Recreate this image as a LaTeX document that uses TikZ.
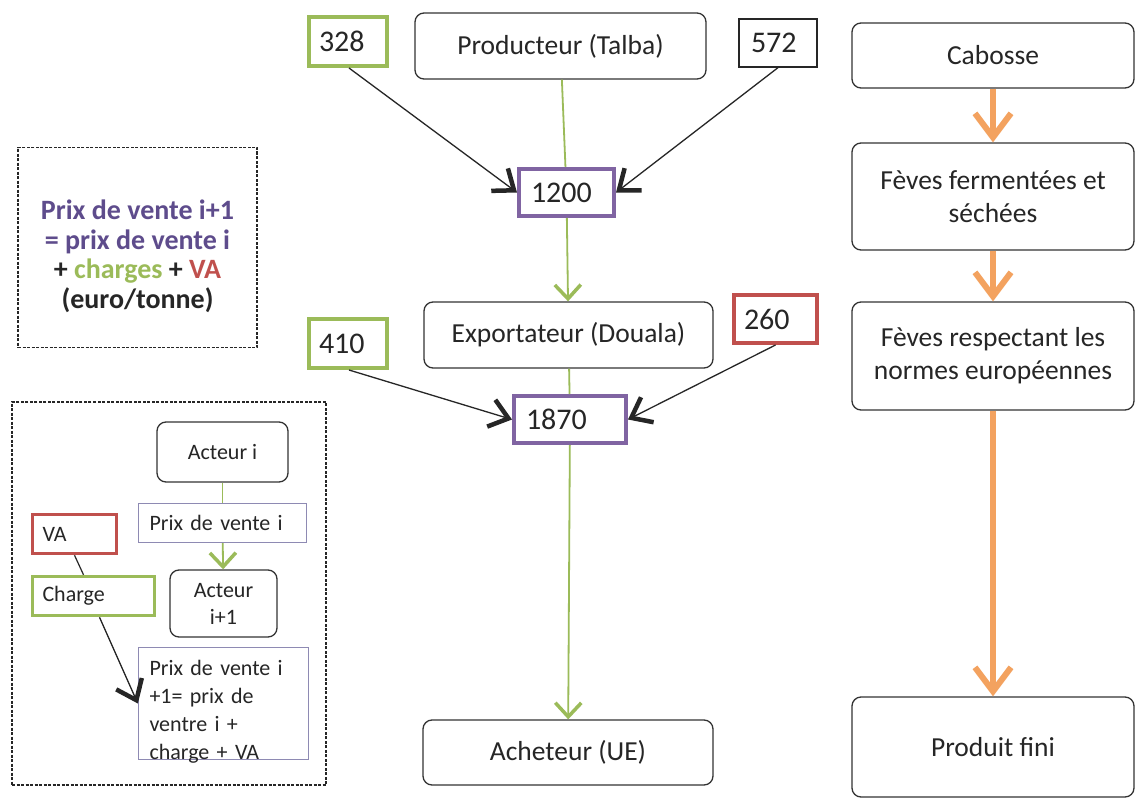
\documentclass[tikz,border=0pt]{standalone}
\usepackage{fontspec}
\setmainfont{Carlito}
\usepackage{xcolor}
\usepackage{tikz}
\usetikzlibrary{arrows.meta}
\definecolor{texte}{HTML}{262626}
\definecolor{vert}{HTML}{9BBB59}
\definecolor{violet}{HTML}{8064A2}
\definecolor{violettexte}{HTML}{5E4C8C}
\definecolor{rouge}{HTML}{C0504D}
\definecolor{orangeflux}{HTML}{F3A25F}
\definecolor{grisprix}{HTML}{8E8AB3}
\tikzset{
  acteur/.style={draw=black!80, line width=1.3pt, rounded corners=9pt, align=center,
    text=texte, font=\fontsize{27.5}{33}\selectfont},
  petitacteur/.style={acteur, font=\fontsize{22}{27}\selectfont},
  montant/.style={draw, line width=4pt, align=left, inner xsep=12pt,
    text=texte, font=\fontsize{30}{32}\selectfont},
  petitmontant/.style={draw, line width=3.5pt, align=left, inner xsep=10pt,
    text=texte, font=\fontsize{22}{27.5}\selectfont},
  prix/.style={draw=grisprix, line width=1.3pt, align=left, inner xsep=11pt,
    text=texte, font=\fontsize{22}{28}\selectfont},
  cadre/.style={draw=black!85, line width=1.4pt, dash pattern=on 3pt off 1.5pt},
  lien/.style={draw=vert, line width=1.8pt},
  flechevert/.style={lien, -{Straight Barb[length=14pt,width=26pt,line width=3.5pt]}},
  apport/.style={draw=black!85, line width=1.3pt,
    -{Straight Barb[length=18pt,width=28pt,line width=4.5pt]}},
  flux/.style={draw=orangeflux, line width=6pt,
    -{Straight Barb[length=24pt,width=36pt,line width=6pt]}}
}

\begin{document}
\begin{tikzpicture}[x=1pt,y=-1pt]
\fill[white] (0,0) rectangle (1136,800);
\useasboundingbox (0,0) rectangle (1136,800);

% legende : formule
\node[cadre, minimum width=239pt, minimum height=200pt] (formule) at (137.5,247.5) {};
\node[align=center, text=texte, font=\bfseries\fontsize{28}{29.5}\selectfont]
  (formuletexte) at ([yshift=-9pt]formule.center)
  {{\color{violettexte}Prix de vente i+1}\\{\color{violettexte}= prix de vente i}\\
   + {\color{vert}charges} + {\color{rouge}VA}\\(euro/tonne)};

% legende : schema type
\node[cadre, minimum width=314pt, minimum height=383pt] (schema) at (169,593.5) {};
\node[petitacteur, minimum width=131pt, minimum height=60pt] (acti) at (222.5,452) {Acteur i};
\node[prix, text width=146pt, minimum height=39pt] (pvi) at (222.5,523) {Prix de vente i};
\node[petitacteur, minimum width=107pt, minimum height=67pt] (acti1) at (223.5,603.5) {Acteur\\i+1};
\node[petitmontant, draw=rouge, text width=64pt, minimum height=39pt] (va) at (74.5,534) {VA};
\node[petitmontant, draw=vert, text width=102pt, minimum height=39pt] (charge) at (93.5,596) {Charge};
\node[prix, minimum width=170pt, minimum height=112pt] (pvi1) at (223.5,703.5) {};
\node[prix, draw=none, text width=148pt, anchor=west] (pvi1texte) at ([yshift=-8pt]pvi1.west)
  {Prix de vente i\\+1= prix de\\ventre i +\\charge + VA};
\draw[lien] (acti) -- (pvi);
\draw[flechevert] (pvi) -- (acti1);
\draw[draw=black!85, line width=1.2pt] (va.south) -- ([xshift=-10pt]charge.north);
\draw[apport] ([xshift=6pt]charge.south) -- (pvi1.west);

% filiere : acteurs
\node[acteur, minimum width=291pt, minimum height=66pt] (prod) at (560.5,46) {Producteur (Talba)};
\node[acteur, minimum width=289pt, minimum height=66pt] (export) at (568.5,335) {Exportateur (Douala)};
\node[acteur, minimum width=290pt, minimum height=65pt] (achat) at (568,752.5) {Acheteur (UE)};

% filiere : montants
\node[montant, draw=vert, text width=58pt, inner xsep=10pt, minimum height=49pt] (n328) at (348,41.5) {328};
\node[montant, draw=black!85, line width=1.3pt, text width=54pt, minimum height=48pt] (n572) at (778,43) {572};
\node[montant, draw=violet, text width=71pt, minimum height=47pt] (n1200) at (566.5,192.5) {1200};
\node[montant, draw=vert, text width=58pt, inner xsep=10pt, minimum height=49pt] (n410) at (348,343.5) {410};
\node[montant, draw=rouge, text width=63pt, inner xsep=10pt, minimum height=48pt] (n260) at (775.5,319) {260};
\node[montant, draw=violet, text width=88pt, minimum height=47pt] (n1870) at (570,419.5) {1870};

% filiere : liens
\draw[lien] (prod) -- (n1200);
\draw[flechevert] (n1200) -- (export);
\draw[lien] (export) -- (n1870);
\draw[flechevert] (n1870) -- (achat);
\draw[apport] ([xshift=1pt]n328.south) -- (n1200.west);
\draw[apport] (n572.south) -- (n1200.east);
\draw[apport] ([xshift=1pt]n410.south) -- (n1870.west);
\draw[apport] (n260.south) -- (n1870.east);

% produit
\node[acteur, minimum width=282pt, minimum height=65pt] (cab) at (993,55.5) {Cabosse};
\node[acteur, minimum width=282pt, minimum height=107pt] (ferm) at (993,196.5) {Fèves fermentées et\\séchées};
\node[acteur, minimum width=282pt, minimum height=108pt] (norm) at (993,356) {Fèves respectant les\\normes européennes};
\node[acteur, minimum width=282pt, minimum height=100pt] (fini) at (993,747) {Produit fini};
\draw[flux] (cab) -- (ferm);
\draw[flux] (ferm) -- (norm);
\draw[flux] (norm) -- (fini);
\end{tikzpicture}
\end{document}
